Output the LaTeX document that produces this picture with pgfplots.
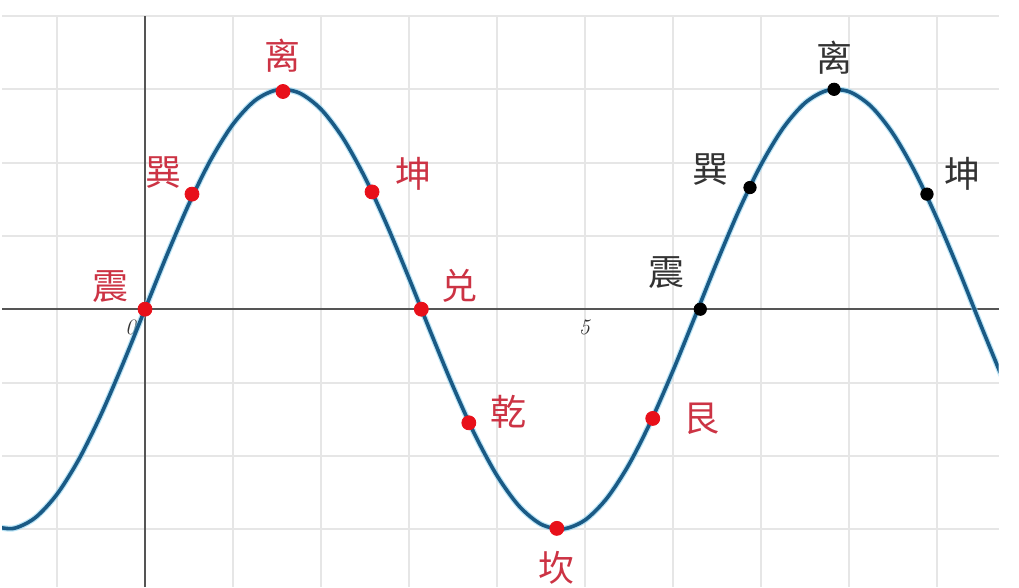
\documentclass[border=0pt]{standalone}
\usepackage{pgfplots}
\pgfplotsset{compat=1.18}
\usepackage{fontspec}
\newfontfamily\cjk{Noto Sans CJK SC}

\definecolor{curveblue}{HTML}{1A5A85}
\definecolor{halo}{HTML}{8FD3F0}
\definecolor{dotred}{HTML}{E8101A}
\definecolor{labred}{HTML}{CC3344}
\definecolor{labblack}{HTML}{333333}
\definecolor{axisgray}{HTML}{555555}
\definecolor{gridgray}{HTML}{E6E6E6}

\tikzset{lab/.style={font=\cjk\fontsize{18}{18}\selectfont, inner sep=0pt}}

% y = 3 sin x
\pgfplotstableread{
x y
-1.75 -2.952
-1.50 -2.992
-1.25 -2.847
-1.00 -2.524
-0.75 -2.045
-0.50 -1.438
-0.25 -0.742
0.00 0.000
0.25 0.742
0.50 1.438
0.75 2.045
1.00 2.524
1.25 2.847
1.50 2.992
1.75 2.952
2.00 2.728
2.25 2.334
2.50 1.795
2.75 1.145
3.00 0.423
3.25 -0.325
3.50 -1.052
3.75 -1.715
4.00 -2.270
4.25 -2.685
4.50 -2.933
4.75 -2.998
5.00 -2.877
5.25 -2.577
5.50 -2.117
5.75 -1.525
6.00 -0.838
6.25 -0.100
6.50 0.645
6.75 1.351
7.00 1.971
7.25 2.469
7.50 2.814
7.75 2.984
8.00 2.968
8.25 2.768
8.50 2.395
8.75 1.874
9.00 1.236
9.25 0.526
9.50 -0.225
9.75 -0.959
}\wave

\begin{document}
\begin{tikzpicture}
\begin{axis}[
    x=44pt, y=36.65pt,
    xmin=-1.625, xmax=9.70,
    ymin=-3.79, ymax=4,
    axis lines=middle,
    axis line style={draw=axisgray, line width=1pt, -},
    hide obscured x ticks=false,
    xtick={-1,...,9},
    ytick={-3,...,4},
    xticklabels={{},{\makebox[0pt][r]{\textit{0}\hspace{4pt}}},{},{},{},{},{\textit{5}},{},{},{},{}},
    yticklabels={},
    xticklabel style={font=\fontsize{11}{12}\selectfont, text=labblack, yshift=-2pt},
    major tick length=0pt,
    grid=major,
    major grid style={draw=gridgray, line width=1pt},
]

\addplot[halo, line width=3pt, smooth, opacity=0.6] table {\wave};
\addplot[curveblue, line width=1.8pt, smooth] table {\wave};

% red points
\addplot[only marks, mark=*, mark size=3.5pt, color=dotred] coordinates {
    (0,0) (0.534,1.57) (1.568,2.97) (2.58,1.60) (3.14,0)
    (3.68,-1.55) (4.68,-2.99) (5.77,-1.49)
};
% black points
\addplot[only marks, mark=*, mark size=3.1pt, color=black] coordinates {
    (6.31,0) (6.875,1.66) (7.83,3.0) (8.886,1.57)
};

\node[lab, text=labred, xshift=-17.5pt, yshift=11.5pt] at (axis cs:0,0) {震};
\node[lab, text=labred, xshift=-14pt, yshift=11pt] at (axis cs:0.534,1.57) {巽};
\node[lab, text=labred, yshift=18pt] at (axis cs:1.568,2.97) {离};
\node[lab, text=labred, xshift=20.5pt, yshift=9pt] at (axis cs:2.58,1.60) {坤};
\node[lab, text=labred, xshift=19pt, yshift=11.5pt] at (axis cs:3.14,0) {兑};
\node[lab, text=labred, xshift=20pt, yshift=5.5pt] at (axis cs:3.68,-1.55) {乾};
\node[lab, text=labred, yshift=-19.5pt] at (axis cs:4.68,-2.99) {坎};
\node[lab, text=labred, xshift=24.5pt] at (axis cs:5.77,-1.49) {艮};

\node[lab, text=labblack, xshift=-17pt, yshift=18.5pt] at (axis cs:6.31,0) {震};
\node[lab, text=labblack, xshift=-20pt, yshift=9pt] at (axis cs:6.875,1.66) {巽};
\node[lab, text=labblack, yshift=16pt] at (axis cs:7.83,3.0) {离};
\node[lab, text=labblack, xshift=18pt, yshift=10pt] at (axis cs:8.886,1.57) {坤};
\end{axis}
\pgfresetboundingbox
\path ([xshift=-1pt]current axis.south west) rectangle ([xshift=10.2pt,yshift=8pt]current axis.north east);
\end{tikzpicture}
\end{document}
